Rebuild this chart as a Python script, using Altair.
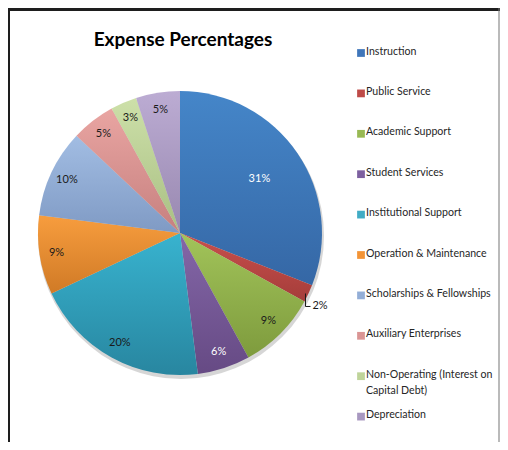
import math
import altair as alt
import pandas as pd

categories = [
    "Instruction", "Public Service", "Academic Support", "Student Services",
    "Institutional Support", "Operation & Maintenance", "Scholarships & Fellowships",
    "Auxiliary Enterprises", "Non-Operating (Interest on Capital Debt)", "Depreciation",
]
values = [31, 2, 9, 6, 20, 9, 10, 5, 3, 5]
legend_labels = [
    "Instruction", "Public Service", "Academic Support", "Student Services",
    "Institutional Support", "Operation & Maintenance", "Scholarships & Fellowships",
    "Auxiliary Enterprises", "Non-Operating (Interest on\nCapital Debt)", "Depreciation",
]
title_text = "Expense Percentages"

mid_colors = ["#3F76BA", "#BE4B48", "#98B954", "#7D60A0", "#41ACC5",
              "#F39436", "#93AED7", "#DA9594", "#BFD49A", "#A898C0"]
top_colors = ["#4586C9", "#C9504D", "#A2C45A", "#8467A8", "#38B3CF",
              "#F79D3E", "#A2BDE3", "#E9A5A2", "#CDE0A9", "#BCACD3"]
bottom_colors = ["#3567A5", "#A53D3A", "#7E9B3D", "#664A84", "#2886A0",
                 "#D07A26", "#7F9AC4", "#C6807F", "#A9BF83", "#9888B0"]

df = pd.DataFrame({
    "category": categories,
    "value": values,
    "order": list(range(len(values))),
    "legend": legend_labels,
})
dummy = alt.Data(values=[{"a": 1}])

W, H = 492, 434
CX, CY, R = 172, 225, 142
FONT = "Lato"

theta_scale = alt.Scale(domain=[0, 100], range=[0, 2 * math.pi])

base = (
    alt.Chart(df)
    .transform_window(end="sum(value)", sort=[alt.SortField("order")], frame=[None, 0])
    .transform_calculate(
        start="datum.end - datum.value",
        mid="datum.end - datum.value / 2",
        label="datum.value + '%'",
    )
)

shadow = alt.Chart(dummy).mark_arc(
    radius=R + 1, theta=0, theta2=2 * math.pi, color="#8a8a8a", opacity=0.35
).encode(x=alt.value(CX + 1), y=alt.value(CY + 3))

slices = []
for i, c in enumerate(categories):
    grad = {
        "gradient": "linear", "x1": 0, "y1": 0, "x2": 0, "y2": 1,
        "stops": [
            {"offset": 0, "color": top_colors[i]},
            {"offset": 1, "color": bottom_colors[i]},
        ],
    }
    slices.append(
        base.transform_filter(alt.datum.category == c)
        .mark_arc(radius=R, fill=grad)
        .encode(
            theta=alt.Theta("start:Q", scale=theta_scale),
            theta2="end:Q",
            x=alt.value(CX),
            y=alt.value(CY),
        )
    )

label_big = base.transform_filter(alt.datum.category == "Instruction").mark_text(
    font=FONT, fontSize=11, color="white"
).encode(
    theta=alt.Theta("mid:Q", scale=theta_scale),
    radius=alt.value(96),
    text="label:N",
    x=alt.value(CX), y=alt.value(CY),
)

label_rest = base.transform_filter(
    "datum.category != 'Instruction' && datum.category != 'Public Service'"
).mark_text(font=FONT, fontSize=11).encode(
    theta=alt.Theta("mid:Q", scale=theta_scale),
    radius=alt.value(125),
    text="label:N",
    color=alt.condition(alt.datum.category == "Student Services",
                        alt.value("white"), alt.value("#1a1a1a")),
    x=alt.value(CX), y=alt.value(CY),
)

lead = base.transform_filter(alt.datum.category == "Public Service").transform_calculate(
    px=f"{CX} + {R} * sin(2 * PI * datum.mid / 100) - 3",
    py=f"{CY} - {R} * cos(2 * PI * datum.mid / 100)",
).transform_calculate(
    py2="datum.py + 13",
    px2="datum.px + 5",
    tx="datum.px + 7",
)
lead_v = lead.mark_rule(color="#1a1a1a", strokeWidth=1).encode(
    x=alt.X("px:Q", scale=None), y=alt.Y("py:Q", scale=None), y2="py2:Q"
)
lead_h = lead.mark_rule(color="#1a1a1a", strokeWidth=1).encode(
    x=alt.X("px:Q", scale=None), x2="px2:Q", y=alt.Y("py2:Q", scale=None)
)
lead_t = lead.mark_text(font=FONT, fontSize=11, align="left", baseline="middle",
                        color="#1a1a1a").encode(
    x=alt.X("tx:Q", scale=None), y=alt.Y("py2:Q", scale=None), text="label:N"
)

leg = alt.Chart(df).transform_calculate(ly="45 + datum.order * 40.4")
swatches = leg.mark_square(size=60, opacity=1).encode(
    x=alt.value(353),
    y=alt.Y("ly:Q", scale=None),
    color=alt.Color("category:N", scale=alt.Scale(domain=categories, range=mid_colors),
                    legend=None),
)
leg_text = leg.mark_text(
    align="left", baseline="top", dy=-6.5, font=FONT, fontSize=10.6,
    lineBreak="\n", lineHeight=16, color="#262626",
).encode(x=alt.value(358), y=alt.Y("ly:Q", scale=None), text="legend:N")

title = alt.Chart(dummy).mark_text(
    font=FONT, fontSize=19, fontWeight="bold", color="black", baseline="middle"
).encode(x=alt.value(175), y=alt.value(32), text=alt.value(title_text))

frame_top = alt.Chart(dummy).mark_rect(color="#1e1e1e").encode(
    x=alt.value(0), x2=alt.value(W), y=alt.value(0), y2=alt.value(3))
frame_left = alt.Chart(dummy).mark_rect(color="#1e1e1e").encode(
    x=alt.value(0), x2=alt.value(2), y=alt.value(0), y2=alt.value(H))
frame_right = alt.Chart(dummy).mark_rect(color="#777777").encode(
    x=alt.value(W - 1.5), x2=alt.value(W - 0.5), y=alt.value(0), y2=alt.value(H))

chart = alt.layer(
    shadow, *slices, label_big, label_rest, lead_v, lead_h, lead_t,
    swatches, leg_text, title, frame_top, frame_left, frame_right,
).properties(
    width=W, height=H, padding=0, autosize="none", background="white"
).configure_view(stroke=None)

chart.save("out.html", embed_options={"renderer": "svg", "actions": False})
